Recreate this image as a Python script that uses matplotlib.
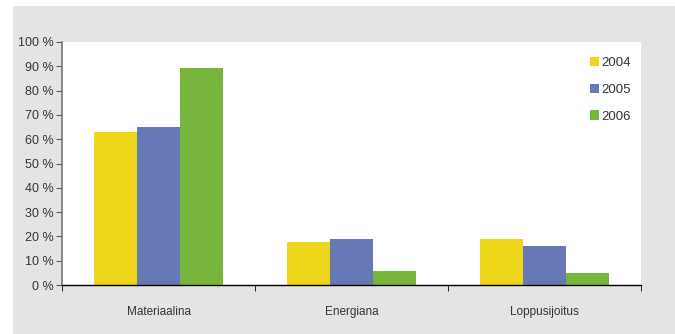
import numpy as np
import matplotlib.pyplot as plt
from matplotlib.patches import Rectangle, Patch

categories = ["Materiaalina", "Energiana", "Loppusijoitus"]
years = ["2004", "2005", "2006"]
v2004 = [63, 17.7, 18.9]
v2005 = [65, 18.9, 16]
v2006 = [89.3, 5.8, 4.9]
colors = ["#EED71B", "#6679B5", "#77B53D"]

plt.rcParams['font.family'] = ['Liberation Sans', 'DejaVu Sans']

fig = plt.figure(figsize=(6.75, 3.34), dpi=100)
fig.patches.append(Rectangle((13/675, 0), 1, 328/334, transform=fig.transFigure,
                             facecolor="#E4E4E4", edgecolor="none", zorder=-10))
ax = fig.add_axes([62/675, 49/334, 579/675, 243/334])
ax.set_facecolor("white")

x = np.arange(len(categories))
w = 0.222
for i, (vals, c) in enumerate(zip([v2004, v2005, v2006], colors)):
    ax.bar(x + (i - 1) * w, vals, width=w, color=c, zorder=2)

ax.set_xlim(-0.5, 2.5)
ax.set_ylim(0, 100)
ax.set_yticks(range(0, 101, 10))
ax.set_yticklabels([f"{t} %" for t in range(0, 101, 10)], fontsize=9, color="#333333")
ax.set_xticks(x)
ax.set_xticklabels(categories, fontsize=8.5, color="#333333")
ax.tick_params(axis="x", length=0, pad=15)
ax.set_xticks([-0.5, 0.5, 1.5, 2.5], minor=True)
ax.tick_params(axis="x", which="minor", length=4, direction="out", color="black")
ax.tick_params(axis="y", length=4, direction="out", color="#555555", pad=2)

for s in ["top", "right"]:
    ax.spines[s].set_visible(False)
ax.spines["left"].set_color("#777777")
ax.spines["left"].set_linewidth(1.2)
ax.spines["bottom"].set_color("black")
ax.spines["bottom"].set_linewidth(1.0)

handles = [Patch(facecolor=c, edgecolor="none") for c in colors]
ax.legend(handles, years, loc="upper left", bbox_to_anchor=(578/675, 289/334),
          bbox_transform=fig.transFigure, frameon=False, fontsize=9.5,
          handlelength=0.7, handleheight=0.7, handletextpad=0.15,
          labelspacing=1.1, labelcolor="#333333")

fig.savefig("out.png", dpi=100, facecolor="white")
